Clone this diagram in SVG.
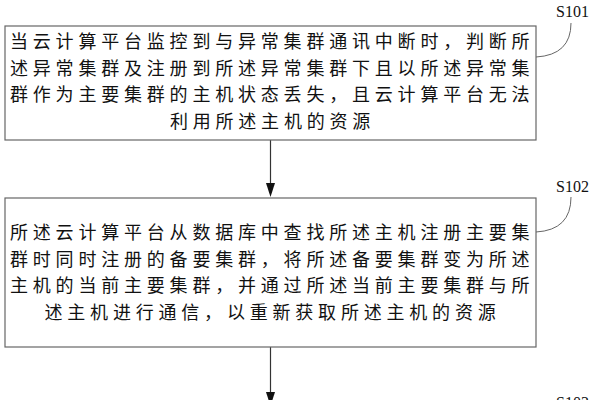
<svg xmlns="http://www.w3.org/2000/svg" width="600" height="400" viewBox="0 0 600 400">
<defs>
<style>
.box{fill:#fff;stroke:#666;stroke-width:1.2}
.t{font-family:"Liberation Serif","Noto Sans CJK SC",serif;font-size:18px;fill:#111;letter-spacing:4.8px}
.c{text-anchor:middle}
.lbl{font-family:"Liberation Serif",serif;font-size:16px;fill:#111}
.lead{fill:none;stroke:#666;stroke-width:1}
.conn{stroke:#333;stroke-width:1.2;fill:none}
</style>
<marker id="arr" markerWidth="10" markerHeight="14" refX="5" refY="14" orient="auto-start-reverse" markerUnits="userSpaceOnUse" viewBox="0 0 10 14">
<path d="M0,0 L10,0 L5,14 Z" fill="#111" transform="rotate(0)"/>
</marker>
</defs>
<rect width="600" height="400" fill="#fff"/>
<g id="connectors">
<line class="conn" x1="270.5" y1="140" x2="270.5" y2="183"/>
<path d="M266,183 L275,183 L270.5,197 Z" fill="#111"/>
<line class="conn" x1="270.5" y1="347" x2="270.5" y2="392"/>
<path d="M266,392 L275,392 L270.5,406 Z" fill="#111"/>
</g>
<g id="S101">
<rect class="box" x="5" y="26" width="531" height="114"/>
<text class="t" x="10" y="48">当云计算平台监控到与异常集群通讯中断时，判断所</text>
<text class="t" x="10" y="74.5">述异常集群及注册到所述异常集群下且以所述异常集</text>
<text class="t" x="10" y="101">群作为主要集群的主机状态丢失，且云计算平台无法</text>
<text class="t c" x="272.5" y="127.5">利用所述主机的资源</text>
<path class="lead" d="M536,57 Q571,55 571,23"/>
<text class="lbl" x="556" y="17">S101</text>
</g>
<g id="S102">
<rect class="box" x="5" y="198" width="531" height="149"/>
<text class="t" x="10" y="239">所述云计算平台从数据库中查找所述主机注册主要集</text>
<text class="t" x="10" y="265.5">群时同时注册的备要集群，将所述备要集群变为所述</text>
<text class="t" x="10" y="292">主机的当前主要集群，并通过所述当前主要集群与所</text>
<text class="t c" x="272.5" y="318.5">述主机进行通信，以重新获取所述主机的资源</text>
<path class="lead" d="M536,232 Q571,230 571,197"/>
<text class="lbl" x="556" y="192">S102</text>
</g>
<g id="S103">
<text class="lbl" x="556" y="408">S103</text>
</g>
</svg>
